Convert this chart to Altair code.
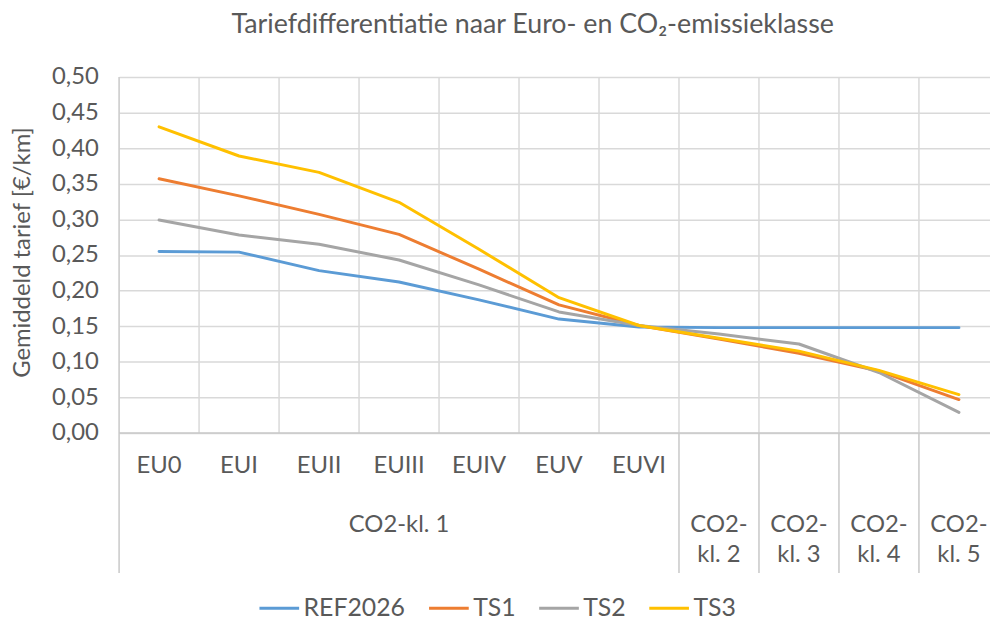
import altair as alt
import pandas as pd

# ---- data ----
categories = ["EU0", "EUI", "EUII", "EUIII", "EUIV", "EUV", "EUVI",
              "CO2-kl. 2", "CO2-kl. 3", "CO2-kl. 4", "CO2-kl. 5"]
inner_labels = ["EU0", "EUI", "EUII", "EUIII", "EUIV", "EUV", "EUVI", "", "", "", ""]
series_names = ["REF2026", "TS1", "TS2", "TS3"]
ref2026 = [0.255, 0.254, 0.228, 0.212, 0.187, 0.160, 0.149, 0.148, 0.148, 0.148, 0.148]
ts1 = [0.357, 0.333, 0.307, 0.279, 0.230, 0.180, 0.151, 0.132, 0.112, 0.087, 0.047]
ts2 = [0.299, 0.278, 0.265, 0.243, 0.208, 0.170, 0.151, 0.139, 0.125, 0.085, 0.029]
ts3 = [0.430, 0.389, 0.366, 0.324, 0.258, 0.190, 0.151, 0.133, 0.115, 0.088, 0.054]
colors = ["#5B9BD5", "#ED7D31", "#A5A5A5", "#FFC000"]
y_ticks = [0.00, 0.05, 0.10, 0.15, 0.20, 0.25, 0.30, 0.35, 0.40, 0.45, 0.50]

# outer (group) labels: text and the category-index position they centre on
outer_row1 = [("CO2-kl. 1", 3), ("CO2-", 7), ("CO2-", 8), ("CO2-", 9), ("CO2-", 10)]
outer_row2 = [("kl. 2", 7), ("kl. 3", 8), ("kl. 4", 9), ("kl. 5", 10)]
grid_bounds = [0.5, 1.5, 2.5, 3.5, 4.5, 5.5, 6.5, 7.5, 8.5, 9.5]
sep_bounds = [6.5, 7.5, 8.5, 9.5]
left_bound = [-0.5]

# ---- tables ----
rows = []
for name, vals in zip(series_names, [ref2026, ts1, ts2, ts3]):
    for i, v in enumerate(vals):
        rows.append({"idx": i, "cat": categories[i], "serie": name, "value": v})
df = pd.DataFrame(rows)
inner_df = pd.DataFrame({"idx": list(range(len(categories))), "label": inner_labels})
row1_df = pd.DataFrame(outer_row1, columns=["label", "idx"])
row2_df = pd.DataFrame(outer_row2, columns=["label", "idx"])
grid_df = pd.DataFrame({"b": grid_bounds})
sep_df = pd.DataFrame({"b": sep_bounds})
left_df = pd.DataFrame({"b": left_bound})

FONT = "Lato"
TXT = "#595959"
W, H = 878, 359
cat_w = 887 / 11
x_scale = alt.Scale(domain=[-0.5, round(-0.5 + W / cat_w, 4)], nice=False, zero=False)
y_scale = alt.Scale(domain=[0, 0.5], nice=False)

y_axis = alt.Axis(values=y_ticks, tickCount=11,
                  labelExpr="replace(format(datum.value, '.2f'), '.', ',')",
                  labelFont=FONT, labelFontSize=24, labelColor=TXT,
                  labelOverlap=False, labelPadding=21,
                  domain=False, ticks=False,
                  grid=True, gridColor="#D9D9D9", gridWidth=1.5,
                  title="Gemiddeld tarief [€/km]", titleFont=FONT,
                  titleFontSize=24, titleFontWeight="normal", titleColor=TXT,
                  titleX=-97, titleY=H / 2 - 3, titleAngle=-90,
                  titleAlign="center", titleBaseline="middle")

lines = alt.Chart(df).mark_line(strokeWidth=3, strokeJoin="round", strokeCap="round").encode(
    x=alt.X("idx:Q", scale=x_scale, axis=None),
    y=alt.Y("value:Q", scale=y_scale, axis=y_axis),
    color=alt.Color("serie:N",
                    scale=alt.Scale(domain=series_names, range=colors),
                    legend=alt.Legend(title=None, orient="none", legendX=140, legendY=514,
                                      direction="horizontal", symbolType="stroke",
                                      symbolSize=1600, symbolStrokeWidth=3,
                                      labelFont=FONT, labelFontSize=25, labelColor=TXT,
                                      labelOffset=3, columnPadding=17, padding=0)),
)

vgrid = alt.Chart(grid_df).mark_rule(color="#D9D9D9", strokeWidth=1.5).encode(
    x=alt.X("b:Q", scale=x_scale, axis=None), y=alt.value(0), y2=alt.value(H))

seps = alt.Chart(sep_df).mark_rule(color="#C8C8C8", strokeWidth=1.5).encode(
    x=alt.X("b:Q", scale=x_scale, axis=None), y=alt.value(H), y2=alt.value(H + 141))

left = alt.Chart(left_df).mark_rule(color="#C8C8C8", strokeWidth=1.5).encode(
    x=alt.X("b:Q", scale=x_scale, axis=None), y=alt.value(0), y2=alt.value(H + 141))

bottom = alt.Chart(left_df).mark_rule(color="#C8C8C8", strokeWidth=1.5).encode(
    x=alt.X("b:Q", scale=x_scale, axis=None), y=alt.value(H), x2=alt.value(W))

inner_txt = alt.Chart(inner_df).mark_text(font=FONT, fontSize=24, color=TXT,
                                          baseline="middle").encode(
    x=alt.X("idx:Q", scale=x_scale, axis=None), y=alt.value(H + 33), text="label:N")

row1_txt = alt.Chart(row1_df).mark_text(font=FONT, fontSize=24, color=TXT,
                                        baseline="middle").encode(
    x=alt.X("idx:Q", scale=x_scale, axis=None), y=alt.value(H + 93), text="label:N")

row2_txt = alt.Chart(row2_df).mark_text(font=FONT, fontSize=24, color=TXT,
                                        baseline="middle").encode(
    x=alt.X("idx:Q", scale=x_scale, axis=None), y=alt.value(H + 123), text="label:N")

chart = alt.layer(vgrid, seps, left, bottom, lines, inner_txt, row1_txt, row2_txt).properties(
    width=W, height=H,
    title=alt.TitleParams("Tariefdifferentiatie naar Euro- en CO₂-emissieklasse",
                          font=FONT, fontSize=27, fontWeight="normal", color=TXT,
                          anchor="middle", dx=-22, offset=26),
    autosize=alt.AutoSizeParams(type="none"),
    padding={"left": 112, "top": 67, "right": 0, "bottom": 186},
    background="white",
).configure_view(stroke=None)

chart.save("out.html", embed_options={"renderer": "svg", "actions": False})
